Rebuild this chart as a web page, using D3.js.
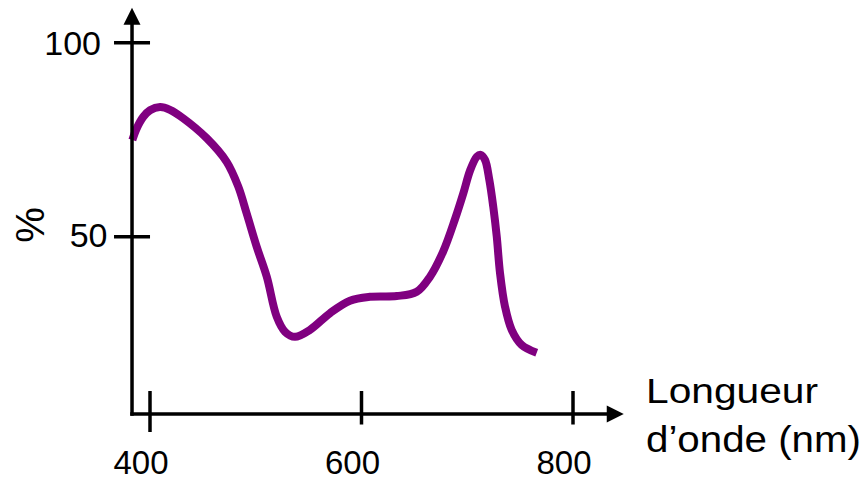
<!DOCTYPE html>
<html><head><meta charset="utf-8">
<script src="https://cdn.jsdelivr.net/npm/d3@7"></script>
<style>html,body{margin:0;padding:0;background:#fff;} svg{display:block}</style>
</head><body>
<svg id="c" width="868" height="481"></svg>
<script>
// Data (wavelength in nm, value in %)
const wavelength = [383.3, 387.4, 393.7, 400.0, 409.5, 418.9, 431.5, 453.6, 472.5, 483.5, 491.4, 500.9, 510.4, 519.8, 527.7, 537.1, 551.3, 570.2, 589.1, 608.0, 633.3, 652.2, 664.8, 677.4, 688.5, 696.3, 702.6, 709.0, 712.7, 716.8, 720.9, 724.6, 727.9, 731.0, 735.7, 742.0, 751.5, 765.7];
const percent    = [74.9, 77.9, 80.9, 82.6, 83.4, 82.7, 80.5, 75.4, 69.3, 62.9, 56.0, 47.4, 39.7, 29.4, 25.5, 24.2, 26.0, 30.3, 33.5, 34.5, 34.7, 35.8, 39.7, 46.3, 54.6, 61.2, 67.0, 70.6, 71.1, 69.8, 64.6, 57.7, 50.0, 40.6, 32.0, 26.0, 22.1, 20.1];
const xTicks = [400, 600, 800];
const yTicks = [100, 50];
const xTitle = ["Longueur", "d\u2019onde (nm)"];
const yTitle = "%";
const xExtent = [383, 848];
const yExtent = [4.3, 109];

const svg = d3.select("#c");
const font = "'Liberation Sans', Arial, Helvetica, sans-serif";
const x = d3.scaleLinear().domain([400, 800]).range([150, 573]);
const y = d3.scaleLinear().domain([50, 100]).range([236.7, 42.7]);

const axW = 3.5, arrowLen = 17, arrowHalf = 8.5;
const x0 = x(xExtent[0]), x1 = x(xExtent[1]);
const y0 = y(yExtent[0]), y1 = y(yExtent[1]);

// curve
const pts = wavelength.map((w, i) => ({w, p: percent[i]}));
const line = d3.line().x(d => x(d.w)).y(d => y(d.p)).curve(d3.curveCatmullRom.alpha(0.5));
svg.append("path").datum(pts).attr("d", line)
  .attr("fill", "none").attr("stroke", "#800080").attr("stroke-width", 8)
  .attr("stroke-linecap", "butt").attr("stroke-linejoin", "round");

const g = svg.append("g").attr("stroke", "#000").attr("stroke-width", axW);
// x axis
g.append("line").attr("x1", x0 - axW/2).attr("x2", x1 - arrowLen + 1).attr("y1", y0).attr("y2", y0);
svg.append("path").attr("fill", "#000")
  .attr("d", `M${x1},${y0} L${x1-arrowLen},${y0-arrowHalf} L${x1-arrowLen},${y0+arrowHalf} Z`);
// y axis
g.append("line").attr("x1", x0).attr("x2", x0).attr("y1", y0 + axW/2).attr("y2", y1 + arrowLen - 1);
svg.append("path").attr("fill", "#000")
  .attr("d", `M${x0},${y1} L${x0-arrowHalf},${y1+arrowLen} L${x0+arrowHalf},${y1+arrowLen} Z`);

// x ticks
xTicks.forEach((d, i) => {
  g.append("line").attr("x1", x(d)).attr("x2", x(d))
    .attr("y1", y0 - 23).attr("y2", y0 + (i === 0 ? 18 : 10.5));
  svg.append("text").attr("x", x(d) - 9).attr("y", 474)
    .attr("text-anchor", "middle").attr("font-family", font).attr("font-size", 33)
    .attr("fill", "#000").text(d);
});
// y ticks
yTicks.forEach(d => {
  g.append("line").attr("x1", x0 - 18).attr("x2", x0 + 18).attr("y1", y(d)).attr("y2", y(d));
  svg.append("text").attr("x", d === 100 ? 101 : 107.5).attr("y", y(d) + (d === 100 ? 12.3 : 10.2))
    .attr("text-anchor", "end").attr("font-family", font).attr("font-size", 34)
    .attr("fill", "#000").text(d);
});

// titles
svg.append("text").attr("transform", "translate(43.5,225) rotate(-90)")
  .attr("text-anchor", "middle").attr("font-family", font).attr("font-size", 40)
  .attr("fill", "#000").text(yTitle);
svg.append("text").attr("x", 646).attr("y", 403.3).attr("font-family", font).attr("font-size", 35)
  .attr("textLength", 172).attr("lengthAdjust", "spacingAndGlyphs").attr("fill", "#000").text(xTitle[0]);
svg.append("text").attr("x", 646).attr("y", 452.3).attr("font-family", font).attr("font-size", 36)
  .attr("textLength", 215).attr("lengthAdjust", "spacingAndGlyphs").attr("fill", "#000").text(xTitle[1]);
</script>
</body></html>
